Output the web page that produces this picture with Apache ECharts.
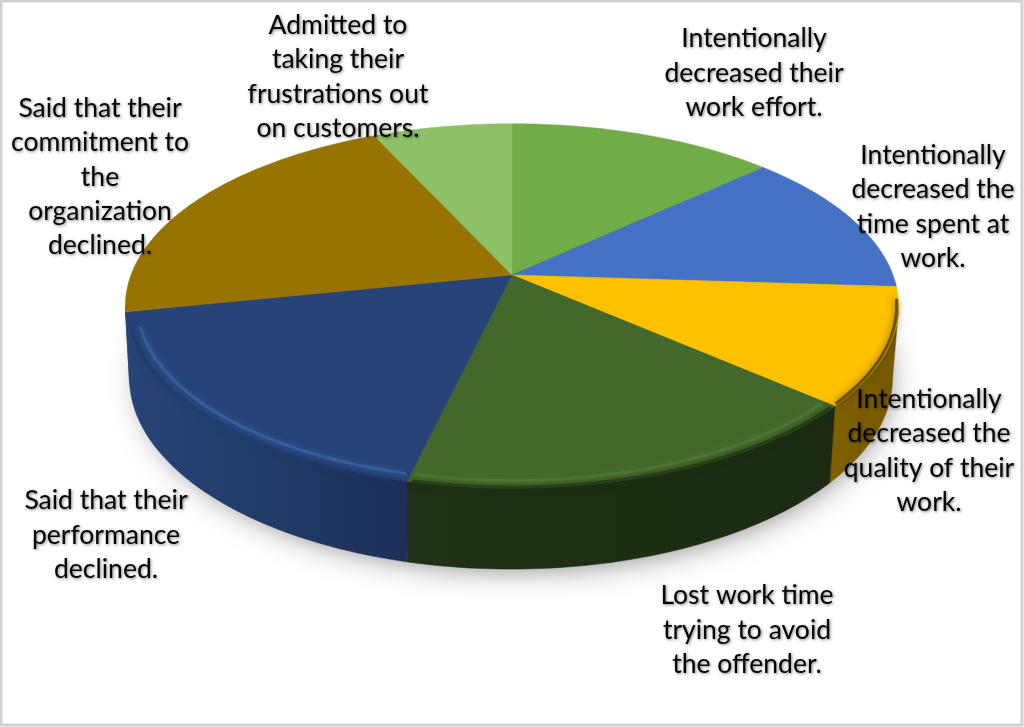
<!DOCTYPE html>
<html><head><meta charset="utf-8">
<style>html,body{margin:0;padding:0;background:#fff}#c{width:1024px;height:727px}</style>
<script src="https://cdn.jsdelivr.net/npm/echarts@6/dist/echarts.min.js"></script>
</head><body><div id="c"></div>
<script>
const categories = [
  "Intentionally\ndecreased their\nwork effort.",
  "Intentionally\ndecreased the\ntime spent at\nwork.",
  "Intentionally\ndecreased the\nquality of their\nwork.",
  "Lost work time\ntrying to avoid\nthe offender.",
  "Said that their\nperformance\ndeclined.",
  "Said that their\ncommitment to\nthe\norganization\ndeclined.",
  "Admitted to\ntaking their\nfrustrations out\non customers."
];
const values = [48, 47, 38, 63, 66, 78, 25];

const topColors  = ["#70ad47","#4472c4","#ffc000","#43682b","#264478","#997300","#8cc168"];
const wallColors = [["#3f6a28","#3f6a28"],["#2a4a85","#2a4a85"],["#7f6000","#755800"],["#1f3014","#1c2b11"],["#264578","#1c3057"],["#264578","#264578"],["#5c8a3c","#5c8a3c"]];
const edgeColors = [null,null,"#3d2e00","#1f3014","#213c6b",null,null];
const glowColors = [null,null,null,"#557d3a","#3f6dae",null,null];
const labelAnchors = [[754,73],[933,207],[929,451],[747,630],[106,535],[100,177],[338,77]];

/* perspective projection of the tilted disc */
const K = 0.17, TOP = {cx:512, cy:275, R:381, S:177}, BOTTOM = {cx:511, cy:345, R:376, S:186};
const FRONT_FROM = 100, FRONT_TO = 260;
function project(disc, deg, r) {
  const a = deg * Math.PI / 180, u = r * Math.sin(a), v = -r * Math.cos(a), d = 1 - K * v;
  return [disc.cx + disc.R * u / d, disc.cy + disc.S * v / d];
}
function arc(disc, a0, a1, r) {
  const pts = [], n = Math.max(2, Math.ceil(Math.abs(a1 - a0)));
  for (let i = 0; i <= n; i++) pts.push(project(disc, a0 + (a1 - a0) * i / n, r));
  return pts;
}
const total = values.reduce((s, x) => s + x, 0);
function span(i) {
  let c = 0;
  for (let j = 0; j < i; j++) c += values[j];
  return [c / total * 360, (c + values[i]) / total * 360];
}
const data = values.map((v, i) => ({ value: v, name: categories[i] }));

const shadowSeries = { type:'custom', coordinateSystem:'none', silent:true, z:1, data:[total],
  renderItem: () => ({ type:'polygon', shape:{ points: arc({cx:512, cy:340, R:368, S:182}, 0, 360, 1) },
    style:{ fill:'#777', shadowBlur:30, shadowColor:'rgba(0,0,0,0.5)', shadowOffsetX:3, shadowOffsetY:9 } }) };

const wallSeries = { type:'custom', coordinateSystem:'none', silent:true, z:2, data,
  renderItem: (p) => {
    const i = p.dataIndex, [s, e] = span(i);
    const a = Math.max(s, FRONT_FROM), b = Math.min(e, FRONT_TO);
    if (b <= a) return null;
    const t = arc(TOP, a, b, 1), m = arc(BOTTOM, a, b, 1).reverse();
    const xs = t.concat(m).map(q => q[0]);
    return { type:'polygon', shape:{ points: t.concat(m) }, style:{
      stroke: wallColors[i][1], lineWidth: 0.5,
      fill: new echarts.graphic.LinearGradient(Math.min(...xs), 0, Math.max(...xs), 0,
        [{offset:0,color:wallColors[i][0]},{offset:1,color:wallColors[i][1]}], true) } };
  } };

const faceSeries = { type:'custom', coordinateSystem:'none', silent:true, z:3, data,
  renderItem: (p) => {
    const i = p.dataIndex, [a, b] = span(i);
    return { type:'polygon', shape:{ points: [[TOP.cx, TOP.cy]].concat(arc(TOP, a, b, 1)) },
      style:{ fill: topColors[i], stroke: topColors[i], lineWidth: 0.5 } };
  } };

const rimSeries = { type:'custom', coordinateSystem:'none', silent:true, z:4, data,
  renderItem: (p) => {
    const i = p.dataIndex, [s, e] = span(i);
    const a = Math.max(s, 97), b = Math.min(e, 254);
    if (b <= a || !edgeColors[i]) return null;
    const children = [{ type:'polyline', shape:{ points: arc(TOP, a + 0.6, b - 0.6, 0.995) },
      style:{ fill:null, stroke: edgeColors[i], lineWidth: 3, opacity: 0.7,
        shadowBlur: 7, shadowColor: edgeColors[i] } }];
    if (glowColors[i]) children.push({ type:'polyline', shape:{ points: arc(TOP, a + 0.6, b - 0.6, 0.97) },
      style:{ fill:null, stroke: glowColors[i], lineWidth: 3, opacity: 0.55,
        shadowBlur: 6, shadowColor: glowColors[i] } });
    return { type:'group', children };
  } };

const labelSeries = { type:'custom', coordinateSystem:'none', silent:true, z:5, data,
  renderItem: (p) => {
    const i = p.dataIndex;
    return { type:'text', x: labelAnchors[i][0], y: labelAnchors[i][1],
      style:{ text: categories[i], fill:'#050505', fontFamily:'Lato', fontSize:26.5,
        lineHeight:34.4, align:'center', verticalAlign:'middle',
        textShadowColor:'rgba(0,0,0,0.5)', textShadowBlur:3, textShadowOffsetX:1, textShadowOffsetY:1 } };
  } };

const chart = echarts.init(document.getElementById('c'), null, { renderer:'canvas' });
chart.setOption({
  animation:false, backgroundColor:'#ffffff',
  graphic:[{ type:'rect', z:0, silent:true, shape:{x:1,y:1,width:1021,height:724},
    style:{ fill:null, stroke:'#d2d2d2', lineWidth:3 } }],
  series:[shadowSeries, wallSeries, faceSeries, rimSeries, labelSeries]
});
</script></body></html>
